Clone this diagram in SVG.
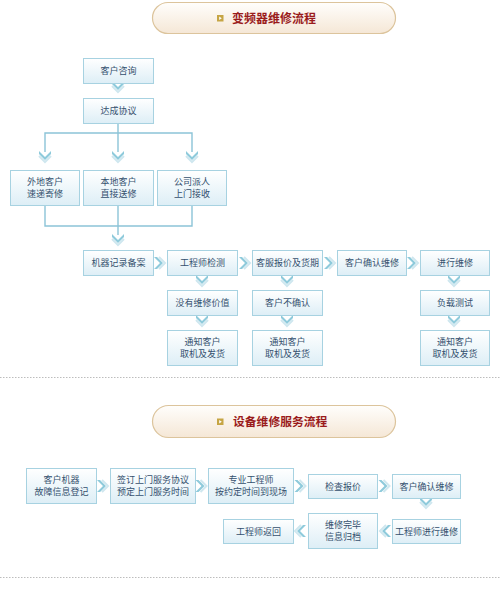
<svg xmlns="http://www.w3.org/2000/svg" width="500" height="592" viewBox="0 0 500 592">
<defs>
<linearGradient id="gBox" x1="0" y1="0" x2="0" y2="1">
<stop offset="0" stop-color="#ffffff"/>
<stop offset="1" stop-color="#ddeef6"/>
</linearGradient>
<linearGradient id="gBan" x1="0" y1="0" x2="0" y2="1">
<stop offset="0" stop-color="#fffefc"/>
<stop offset="1" stop-color="#f5e7d6"/>
</linearGradient>
<g id="chevD">
<polyline points="-6,-1 0,5 6,-1" fill="none" stroke="#cfe7ef" stroke-width="2"/>
<polygon points="-6,-6 0,0 6,-6 6,-3 0,3 -6,-3" fill="#8ecadb"/>
</g>
<g id="chevR">
<polyline points="-1,-6 5,0 -1,6" fill="none" stroke="#cfe7ef" stroke-width="2"/>
<polygon points="-6,-6 0,0 -6,6 -3,6 3,0 -3,-6" fill="#8ecadb"/>
</g>
<g id="chevL">
<polyline points="1,-6 -5,0 1,6" fill="none" stroke="#cfe7ef" stroke-width="2"/>
<polygon points="6,-6 0,0 6,6 3,6 -3,0 3,-6" fill="#8ecadb"/>
</g>
<g id="icon">
<rect x="0" y="0" width="6.5" height="6.5" fill="#c6a544"/>
<polygon points="2.2,1.5 4.8,3.25 2.2,5" fill="#ffffff"/>
</g>
</defs>
<style>
.box{fill:url(#gBox);stroke:#a7d2e1;stroke-width:1}
.t{font-family:"Noto Sans CJK SC","Noto Sans",sans-serif;font-size:9px;fill:#34506e;text-anchor:middle}
.ban{fill:url(#gBan);stroke:#dcc49c;stroke-width:1.2}
.tt{font-family:"Noto Sans CJK SC",sans-serif;font-size:12px;font-weight:bold;fill:#9a1b1b}
.ln{fill:none;stroke:#8cc4d7;stroke-width:1.4}
.dot{stroke:#bdbdbd;stroke-width:1;stroke-dasharray:1.5,1.5}
</style>
<rect width="500" height="592" fill="#ffffff"/>

<g id="title1">
<rect class="ban" x="152.5" y="2.5" width="243" height="31" rx="15.5"/>
<use href="#icon" x="217" y="15"/>
<text class="tt" x="232" y="22.5">变频器维修流程</text>
</g>

<g id="connectors">
<line class="ln" x1="118" y1="123" x2="118" y2="133"/>
<polyline class="ln" points="45,152 45,133 192,133 192,152"/>
<line class="ln" x1="118" y1="133" x2="118" y2="152"/>
<polyline class="ln" points="45,205 45,226 192,226 192,205"/>
<line class="ln" x1="118" y1="205" x2="118" y2="235"/>
<use href="#chevD" x="118" y="87"/>
<use href="#chevD" x="45" y="157"/>
<use href="#chevD" x="118" y="157"/>
<use href="#chevD" x="192" y="157"/>
<use href="#chevD" x="118" y="240"/>
<use href="#chevR" x="160" y="263"/>
<use href="#chevR" x="245" y="263"/>
<use href="#chevR" x="330" y="263"/>
<use href="#chevR" x="413" y="263"/>
<use href="#chevD" x="202" y="281"/>
<use href="#chevD" x="202" y="321"/>
<use href="#chevD" x="287" y="281"/>
<use href="#chevD" x="287" y="321"/>
<use href="#chevD" x="454" y="281"/>
<use href="#chevD" x="454" y="321"/>
<use href="#chevR" x="103" y="486"/>
<use href="#chevR" x="201.5" y="486"/>
<use href="#chevR" x="300.5" y="486"/>
<use href="#chevR" x="384.5" y="486"/>
<use href="#chevD" x="426" y="503"/>
<use href="#chevL" x="385" y="531"/>
<use href="#chevL" x="300" y="531"/>
</g>

<g id="n1"><rect class="box" x="83.5" y="58.5" width="70" height="25"/><text class="t" x="118.5" y="74">客户咨询</text></g>
<g id="n2"><rect class="box" x="83.5" y="98.5" width="70" height="25"/><text class="t" x="118.5" y="114">达成协议</text></g>
<g id="n3"><rect class="box" x="10.5" y="170.5" width="69" height="35"/><text class="t" x="45" y="185">外地客户</text><text class="t" x="45" y="197">速递寄修</text></g>
<g id="n4"><rect class="box" x="83.5" y="170.5" width="70" height="35"/><text class="t" x="118.5" y="185">本地客户</text><text class="t" x="118.5" y="197">直接送修</text></g>
<g id="n5"><rect class="box" x="157.5" y="170.5" width="69" height="35"/><text class="t" x="192" y="185">公司派人</text><text class="t" x="192" y="197">上门接收</text></g>

<g id="n6"><rect class="box" x="83.5" y="250.5" width="70" height="25"/><text class="t" x="118.5" y="266">机器记录备案</text></g>
<g id="n7"><rect class="box" x="167.5" y="250.5" width="70" height="25"/><text class="t" x="202.5" y="266">工程师检测</text></g>
<g id="n8"><rect class="box" x="252.5" y="250.5" width="70" height="25"/><text class="t" x="287.5" y="266">客服报价及货期</text></g>
<g id="n9"><rect class="box" x="337.5" y="250.5" width="69" height="25"/><text class="t" x="372" y="266">客户确认维修</text></g>
<g id="n10"><rect class="box" x="420.5" y="250.5" width="69" height="25"/><text class="t" x="455" y="266">进行维修</text></g>

<g id="n11"><rect class="box" x="167.5" y="290.5" width="70" height="25"/><text class="t" x="202.5" y="306">没有维修价值</text></g>
<g id="n12"><rect class="box" x="252.5" y="290.5" width="70" height="25"/><text class="t" x="287.5" y="306">客户不确认</text></g>
<g id="n13"><rect class="box" x="420.5" y="290.5" width="69" height="25"/><text class="t" x="455" y="306">负载测试</text></g>

<g id="n14"><rect class="box" x="167.5" y="330.5" width="70" height="35"/><text class="t" x="202.5" y="345">通知客户</text><text class="t" x="202.5" y="357">取机及发货</text></g>
<g id="n15"><rect class="box" x="252.5" y="330.5" width="70" height="35"/><text class="t" x="287.5" y="345">通知客户</text><text class="t" x="287.5" y="357">取机及发货</text></g>
<g id="n16"><rect class="box" x="420.5" y="330.5" width="69" height="35"/><text class="t" x="455" y="345">通知客户</text><text class="t" x="455" y="357">取机及发货</text></g>

<line class="dot" x1="0" y1="377.5" x2="500" y2="377.5"/>

<g id="title2">
<rect class="ban" x="152.5" y="405.5" width="243" height="32" rx="16"/>
<use href="#icon" x="217" y="418.5"/>
<text class="tt" x="233" y="426" style="font-size:11.8px">设备维修服务流程</text>
</g>

<g id="m1"><rect class="box" x="26.5" y="468.5" width="70" height="35"/><text class="t" x="61.5" y="483">客户机器</text><text class="t" x="61.5" y="495">故障信息登记</text></g>
<g id="m2"><rect class="box" x="110.5" y="468.5" width="85" height="35"/><text class="t" x="153" y="483">签订上门服务协议</text><text class="t" x="153" y="495">预定上门服务时间</text></g>
<g id="m3"><rect class="box" x="208.5" y="468.5" width="85" height="35"/><text class="t" x="251" y="483">专业工程师</text><text class="t" x="251" y="495">按约定时间到现场</text></g>
<g id="m4"><rect class="box" x="308.5" y="474.5" width="69" height="24"/><text class="t" x="343" y="489.5">检查报价</text></g>
<g id="m5"><rect class="box" x="392.5" y="474.5" width="68" height="24"/><text class="t" x="426.5" y="489.5">客户确认维修</text></g>
<g id="m6"><rect class="box" x="392.5" y="519.5" width="68" height="24"/><text class="t" x="426.5" y="534.5">工程师进行维修</text></g>
<g id="m7"><rect class="box" x="308.5" y="513.5" width="69" height="35"/><text class="t" x="343" y="528">维修完毕</text><text class="t" x="343" y="540">信息归档</text></g>
<g id="m8"><rect class="box" x="223.5" y="519.5" width="70" height="24"/><text class="t" x="258.5" y="534.5">工程师返回</text></g>

<line class="dot" x1="0" y1="577.5" x2="500" y2="577.5"/>
</svg>
